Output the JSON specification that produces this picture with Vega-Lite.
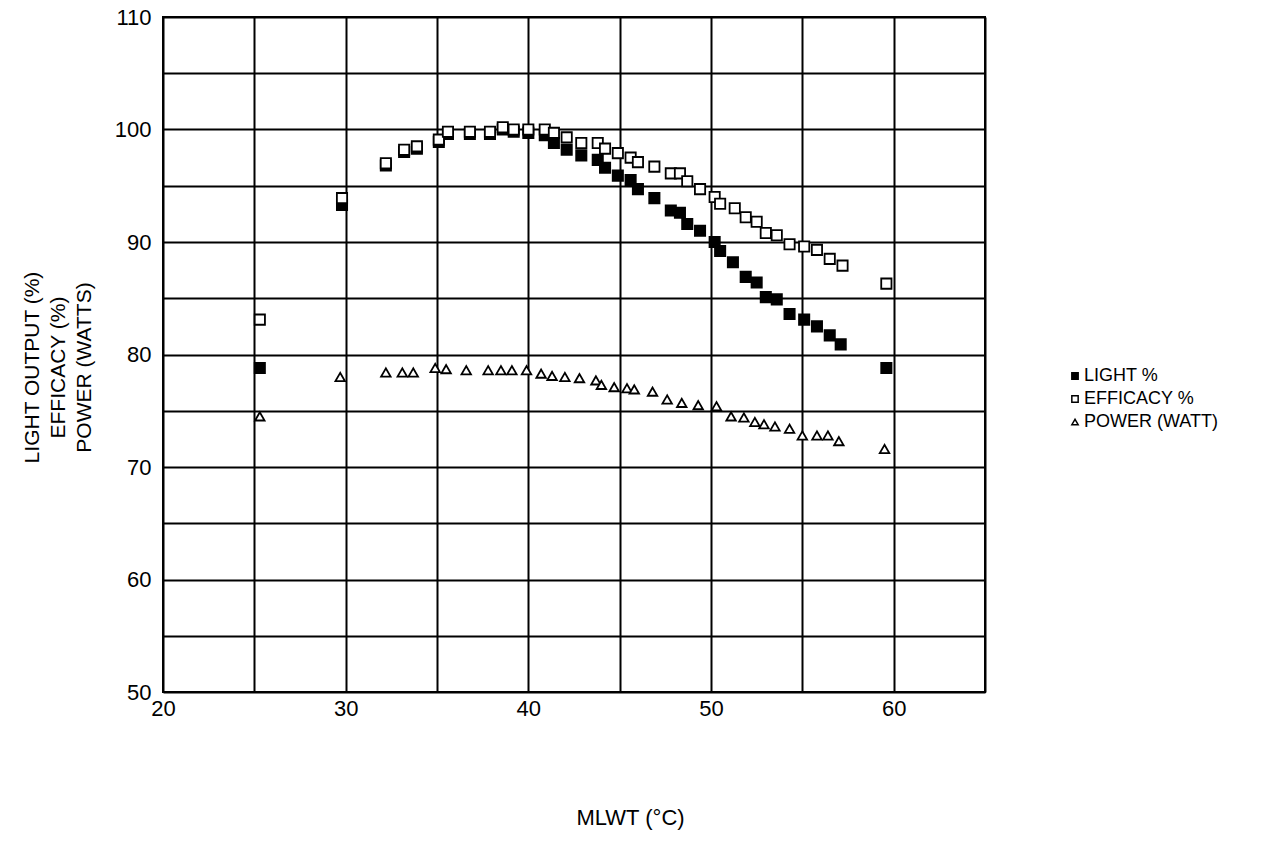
{
  "$schema": "https://vega.github.io/schema/vega-lite/v6.json",
  "width": 822,
  "height": 675,
  "autosize": {"type": "none"},
  "padding": {"left": 163, "top": 17, "right": 285, "bottom": 168},
  "background": "white",
  "config": {
    "view": {"stroke": "black", "strokeWidth": 2},
    "font": "Liberation Sans",
    "legend": {
      "title": null,
      "orient": "none",
      "legendX": 903,
      "legendY": 350,
      "labelFontSize": 18,
      "labelColor": "black",
      "labelLimit": 300,
      "labelOffset": 0,
      "rowPadding": 5,
      "symbolSize": 40,
      "symbolStrokeColor": "black",
      "symbolStrokeWidth": 1.5
    }
  },
  "data": {
    "values": [
      {"t": 25.3, "v": 78.8, "s": "LIGHT %"},
      {"t": 29.8, "v": 93.3, "s": "LIGHT %"},
      {"t": 32.2, "v": 96.8, "s": "LIGHT %"},
      {"t": 33.2, "v": 98.0, "s": "LIGHT %"},
      {"t": 33.9, "v": 98.3, "s": "LIGHT %"},
      {"t": 35.1, "v": 98.9, "s": "LIGHT %"},
      {"t": 35.6, "v": 99.6, "s": "LIGHT %"},
      {"t": 36.8, "v": 99.6, "s": "LIGHT %"},
      {"t": 37.9, "v": 99.6, "s": "LIGHT %"},
      {"t": 38.6, "v": 100.0, "s": "LIGHT %"},
      {"t": 39.2, "v": 99.8, "s": "LIGHT %"},
      {"t": 40.0, "v": 99.7, "s": "LIGHT %"},
      {"t": 40.9, "v": 99.5, "s": "LIGHT %"},
      {"t": 41.4, "v": 98.8, "s": "LIGHT %"},
      {"t": 42.1, "v": 98.2, "s": "LIGHT %"},
      {"t": 42.9, "v": 97.7, "s": "LIGHT %"},
      {"t": 43.8, "v": 97.3, "s": "LIGHT %"},
      {"t": 44.2, "v": 96.6, "s": "LIGHT %"},
      {"t": 44.9, "v": 95.9, "s": "LIGHT %"},
      {"t": 45.6, "v": 95.5, "s": "LIGHT %"},
      {"t": 46.0, "v": 94.7, "s": "LIGHT %"},
      {"t": 46.9, "v": 93.9, "s": "LIGHT %"},
      {"t": 47.8, "v": 92.8, "s": "LIGHT %"},
      {"t": 48.3, "v": 92.6, "s": "LIGHT %"},
      {"t": 48.7, "v": 91.6, "s": "LIGHT %"},
      {"t": 49.4, "v": 91.0, "s": "LIGHT %"},
      {"t": 50.2, "v": 90.0, "s": "LIGHT %"},
      {"t": 50.5, "v": 89.2, "s": "LIGHT %"},
      {"t": 51.2, "v": 88.2, "s": "LIGHT %"},
      {"t": 51.9, "v": 86.9, "s": "LIGHT %"},
      {"t": 52.5, "v": 86.4, "s": "LIGHT %"},
      {"t": 53.0, "v": 85.1, "s": "LIGHT %"},
      {"t": 53.6, "v": 84.9, "s": "LIGHT %"},
      {"t": 54.3, "v": 83.6, "s": "LIGHT %"},
      {"t": 55.1, "v": 83.1, "s": "LIGHT %"},
      {"t": 55.8, "v": 82.5, "s": "LIGHT %"},
      {"t": 56.5, "v": 81.7, "s": "LIGHT %"},
      {"t": 57.1, "v": 80.9, "s": "LIGHT %"},
      {"t": 59.6, "v": 78.8, "s": "LIGHT %"},
      {"t": 25.3, "v": 83.1, "s": "EFFICACY %"},
      {"t": 29.8, "v": 93.9, "s": "EFFICACY %"},
      {"t": 32.2, "v": 97.0, "s": "EFFICACY %"},
      {"t": 33.2, "v": 98.2, "s": "EFFICACY %"},
      {"t": 33.9, "v": 98.5, "s": "EFFICACY %"},
      {"t": 35.1, "v": 99.1, "s": "EFFICACY %"},
      {"t": 35.6, "v": 99.8, "s": "EFFICACY %"},
      {"t": 36.8, "v": 99.8, "s": "EFFICACY %"},
      {"t": 37.9, "v": 99.8, "s": "EFFICACY %"},
      {"t": 38.6, "v": 100.2, "s": "EFFICACY %"},
      {"t": 39.2, "v": 100.0, "s": "EFFICACY %"},
      {"t": 40.0, "v": 100.0, "s": "EFFICACY %"},
      {"t": 40.9, "v": 100.0, "s": "EFFICACY %"},
      {"t": 41.4, "v": 99.7, "s": "EFFICACY %"},
      {"t": 42.1, "v": 99.3, "s": "EFFICACY %"},
      {"t": 42.9, "v": 98.8, "s": "EFFICACY %"},
      {"t": 43.8, "v": 98.8, "s": "EFFICACY %"},
      {"t": 44.2, "v": 98.3, "s": "EFFICACY %"},
      {"t": 44.9, "v": 97.9, "s": "EFFICACY %"},
      {"t": 45.6, "v": 97.5, "s": "EFFICACY %"},
      {"t": 46.0, "v": 97.1, "s": "EFFICACY %"},
      {"t": 46.9, "v": 96.7, "s": "EFFICACY %"},
      {"t": 47.8, "v": 96.1, "s": "EFFICACY %"},
      {"t": 48.3, "v": 96.1, "s": "EFFICACY %"},
      {"t": 48.7, "v": 95.4, "s": "EFFICACY %"},
      {"t": 49.4, "v": 94.7, "s": "EFFICACY %"},
      {"t": 50.2, "v": 94.0, "s": "EFFICACY %"},
      {"t": 50.5, "v": 93.4, "s": "EFFICACY %"},
      {"t": 51.3, "v": 93.0, "s": "EFFICACY %"},
      {"t": 51.9, "v": 92.2, "s": "EFFICACY %"},
      {"t": 52.5, "v": 91.8, "s": "EFFICACY %"},
      {"t": 53.0, "v": 90.8, "s": "EFFICACY %"},
      {"t": 53.6, "v": 90.6, "s": "EFFICACY %"},
      {"t": 54.3, "v": 89.8, "s": "EFFICACY %"},
      {"t": 55.1, "v": 89.6, "s": "EFFICACY %"},
      {"t": 55.8, "v": 89.3, "s": "EFFICACY %"},
      {"t": 56.5, "v": 88.5, "s": "EFFICACY %"},
      {"t": 57.2, "v": 87.9, "s": "EFFICACY %"},
      {"t": 59.6, "v": 86.3, "s": "EFFICACY %"},
      {"t": 25.3, "v": 74.5, "s": "POWER (WATT)"},
      {"t": 29.7, "v": 78.0, "s": "POWER (WATT)"},
      {"t": 32.2, "v": 78.4, "s": "POWER (WATT)"},
      {"t": 33.1, "v": 78.4, "s": "POWER (WATT)"},
      {"t": 33.7, "v": 78.4, "s": "POWER (WATT)"},
      {"t": 34.9, "v": 78.8, "s": "POWER (WATT)"},
      {"t": 35.5, "v": 78.7, "s": "POWER (WATT)"},
      {"t": 36.6, "v": 78.6, "s": "POWER (WATT)"},
      {"t": 37.8, "v": 78.6, "s": "POWER (WATT)"},
      {"t": 38.5, "v": 78.6, "s": "POWER (WATT)"},
      {"t": 39.1, "v": 78.6, "s": "POWER (WATT)"},
      {"t": 39.9, "v": 78.6, "s": "POWER (WATT)"},
      {"t": 40.7, "v": 78.3, "s": "POWER (WATT)"},
      {"t": 41.3, "v": 78.1, "s": "POWER (WATT)"},
      {"t": 42.0, "v": 78.0, "s": "POWER (WATT)"},
      {"t": 42.8, "v": 77.9, "s": "POWER (WATT)"},
      {"t": 43.7, "v": 77.7, "s": "POWER (WATT)"},
      {"t": 44.0, "v": 77.3, "s": "POWER (WATT)"},
      {"t": 44.7, "v": 77.1, "s": "POWER (WATT)"},
      {"t": 45.4, "v": 77.0, "s": "POWER (WATT)"},
      {"t": 45.8, "v": 76.9, "s": "POWER (WATT)"},
      {"t": 46.8, "v": 76.7, "s": "POWER (WATT)"},
      {"t": 47.6, "v": 76.0, "s": "POWER (WATT)"},
      {"t": 48.4, "v": 75.7, "s": "POWER (WATT)"},
      {"t": 49.3, "v": 75.5, "s": "POWER (WATT)"},
      {"t": 50.3, "v": 75.4, "s": "POWER (WATT)"},
      {"t": 51.1, "v": 74.5, "s": "POWER (WATT)"},
      {"t": 51.8, "v": 74.4, "s": "POWER (WATT)"},
      {"t": 52.4, "v": 74.0, "s": "POWER (WATT)"},
      {"t": 52.9, "v": 73.8, "s": "POWER (WATT)"},
      {"t": 53.5, "v": 73.6, "s": "POWER (WATT)"},
      {"t": 54.3, "v": 73.4, "s": "POWER (WATT)"},
      {"t": 55.0, "v": 72.8, "s": "POWER (WATT)"},
      {"t": 55.8, "v": 72.8, "s": "POWER (WATT)"},
      {"t": 56.4, "v": 72.8, "s": "POWER (WATT)"},
      {"t": 57.0, "v": 72.3, "s": "POWER (WATT)"},
      {"t": 59.5, "v": 71.6, "s": "POWER (WATT)"}
    ]
  },
  "mark": {"type": "point", "filled": true, "strokeWidth": 1.8, "opacity": 1},
  "encoding": {
    "x": {
      "field": "t",
      "type": "quantitative",
      "scale": {"domain": [20, 65], "nice": false, "zero": false},
      "axis": {
        "values": [20, 25, 30, 35, 40, 45, 50, 55, 60, 65],
        "labelExpr": "datum.value % 10 == 0 && datum.value < 65 ? datum.label : ''",
        "grid": true,
        "gridColor": "black",
        "gridWidth": 2,
        "gridOpacity": 1,
        "ticks": false,
        "domain": false,
        "labelFontSize": 22,
        "labelColor": "black",
        "labelPadding": 6,
        "labelFlush": false,
        "title": "MLWT (°C)",
        "titleFontSize": 22,
        "titleFontWeight": "normal",
        "titleColor": "black",
        "titleX": 467,
        "titleY": 125,
        "titleBaseline": "middle"
      }
    },
    "y": {
      "field": "v",
      "type": "quantitative",
      "scale": {"domain": [50, 110], "nice": false, "zero": false},
      "axis": {
        "values": [50, 55, 60, 65, 70, 75, 80, 85, 90, 95, 100, 105, 110],
        "labelExpr": "datum.value % 10 == 0 ? datum.label : ''",
        "grid": true,
        "gridColor": "black",
        "gridWidth": 2,
        "gridOpacity": 1,
        "ticks": false,
        "domain": false,
        "labelFontSize": 22,
        "labelColor": "black",
        "labelPadding": 12,
        "labelFlush": false,
        "title": ["LIGHT OUTPUT (%)", "EFFICACY (%)", "POWER (WATTS)"],
        "titleFontSize": 21,
        "titleLineHeight": 26,
        "titleFontWeight": "normal",
        "titleColor": "black",
        "titleAngle": -90,
        "titleAlign": "center",
        "titleBaseline": "top",
        "titleX": -142,
        "titleY": 350
      }
    },
    "shape": {
      "field": "s",
      "type": "nominal",
      "scale": {"domain": ["LIGHT %", "EFFICACY %", "POWER (WATT)"], "range": ["square", "square", "triangle-up"]}
    },
    "fill": {
      "field": "s",
      "type": "nominal",
      "scale": {"domain": ["LIGHT %", "EFFICACY %", "POWER (WATT)"], "range": ["black", "white", "white"]}
    },
    "stroke": {
      "field": "s",
      "type": "nominal",
      "scale": {"domain": ["LIGHT %", "EFFICACY %", "POWER (WATT)"], "range": ["black", "black", "black"]}
    },
    "size": {
      "condition": {"test": "datum.s === 'POWER (WATT)'", "value": 90},
      "value": 105
    }
  }
}
